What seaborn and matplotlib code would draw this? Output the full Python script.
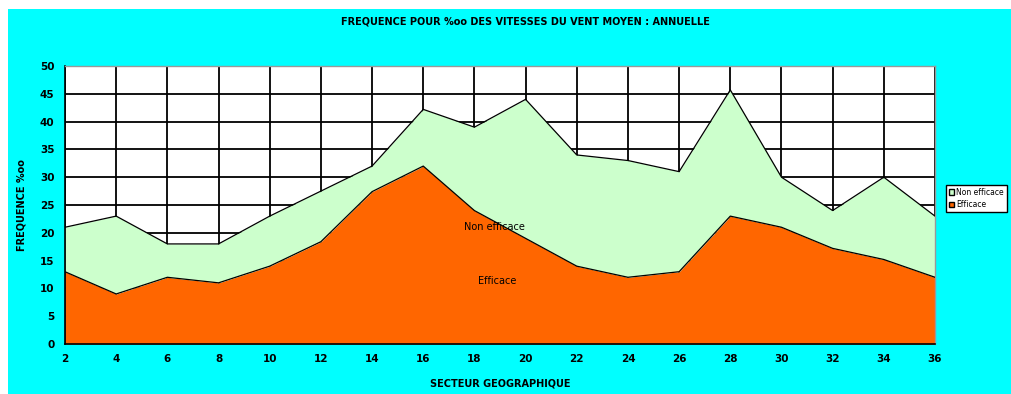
import numpy as np
import pandas as pd
import matplotlib
matplotlib.use("Agg")
import matplotlib.pyplot as plt
from matplotlib.patches import Rectangle, Patch
import seaborn as sns

# Secteurs et fréquences (%oo)
secteurs = [2, 4, 6, 8, 10, 12, 14, 16, 18, 20, 22, 24, 26, 28, 30, 32, 34, 36]
efficace = [13, 9, 12, 11, 14, 18.4, 27.4, 32, 24, 19, 14, 12, 13, 23, 21, 17.2, 15.2, 12]
total = [21, 23, 18, 18, 23, 27.5, 32, 42.2, 39, 44, 34, 33, 31, 45.7, 30, 24, 30, 23]
non_efficace = [t - e for t, e in zip(total, efficace)]

y_ticks = list(range(0, 51, 5))

sns.set_style("white")
plt.rcParams["font.family"] = ["DejaVu Sans"]
plt.rcParams["text.color"] = "black"
plt.rcParams["axes.labelcolor"] = "black"

df = pd.DataFrame({"secteur": secteurs, "efficace": efficace, "non_efficace": non_efficace})
df["total"] = df["efficace"] + df["non_efficace"]

fig = plt.figure(figsize=(10.11, 3.94), dpi=100, facecolor="white")
# fond cyan
fig.patches.append(Rectangle((8 / 1011, 0), 1, 1 - 9 / 394, transform=fig.transFigure,
                             facecolor="#00FFFF", edgecolor="none", zorder=-10))

ax = fig.add_axes([65 / 1011, 1 - 344 / 394, 870 / 1011, 278 / 394])
ax.set_facecolor("white")

ax.fill_between(df["secteur"], 0, df["efficace"], color="#FF6600", zorder=2, linewidth=0)
ax.fill_between(df["secteur"], df["efficace"], df["total"], color="#CCFFCC", zorder=2, linewidth=0)
sns.lineplot(data=df, x="secteur", y="efficace", ax=ax, color="black", lw=0.9, zorder=3)
sns.lineplot(data=df, x="secteur", y="total", ax=ax, color="black", lw=0.9, zorder=3)

ax.set_xlim(2, 36)
ax.set_ylim(0, 50)
ax.set_xticks(secteurs)
ax.set_yticks(y_ticks)
ax.grid(True, color="black", lw=1.3, zorder=0)
ax.set_axisbelow(True)

for s in ["left", "bottom"]:
    ax.spines[s].set_color("black")
    ax.spines[s].set_linewidth(1.2)
for s in ["top", "right"]:
    ax.spines[s].set_color("#999999")
    ax.spines[s].set_linewidth(1.0)

ax.tick_params(axis="both", labelsize=7.5, length=4, width=1, direction="out",
               colors="black", labelcolor="black")
for lab in ax.get_xticklabels() + ax.get_yticklabels():
    lab.set_fontweight("bold")

ax.set_xlabel("SECTEUR GEOGRAPHIQUE", fontsize=7, fontweight="bold", labelpad=10, color="black")
ax.set_ylabel("FREQUENCE %oo", fontsize=7, fontweight="bold", labelpad=10, color="black")
fig.text(525 / 1011, 1 - 22 / 394, "FREQUENCE POUR %oo DES VITESSES DU VENT MOYEN : ANNUELLE",
         ha="center", va="center", fontsize=7, fontweight="bold", color="black")

ax.text(18.8, 21, "Non efficace", ha="center", va="center", fontsize=7, color="black")
ax.text(18.9, 11.3, "Efficace", ha="center", va="center", fontsize=7, color="black")

handles = [Patch(facecolor="#CCFFCC", edgecolor="black", label="Non efficace"),
           Patch(facecolor="#FF6600", edgecolor="black", label="Efficace")]
leg = fig.legend(handles=handles, loc="upper left", bbox_to_anchor=(946 / 1011, 1 - 185 / 394),
                 prop={"size": 5.5}, frameon=True, fancybox=False, edgecolor="black",
                 facecolor="white", framealpha=1,
                 handlelength=0.7, handleheight=0.7, handletextpad=0.3,
                 borderpad=0.35, labelspacing=0.45, borderaxespad=0)
leg.get_frame().set_linewidth(1)
for t in leg.get_texts():
    t.set_color("black")

fig.savefig("out.png", dpi=100, facecolor=fig.get_facecolor())
